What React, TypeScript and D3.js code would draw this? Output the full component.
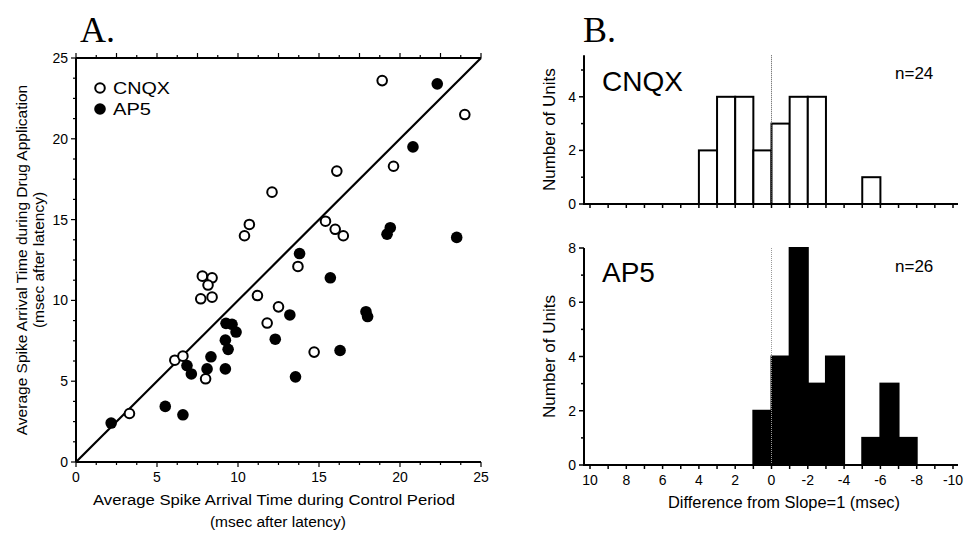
import React from "react";
import * as d3 from "d3";

// ---- Panel A data (scatter) ----
const cnqxX = [18.9, 24.0, 16.1, 19.6, 12.1, 10.7, 10.4, 15.4, 16.0, 16.5, 13.7, 11.2, 12.5, 11.8, 14.7, 7.8, 8.4, 8.15, 7.7, 8.4, 6.1, 6.6, 8.0, 3.3];
const cnqxY = [23.6, 21.5, 18.0, 18.3, 16.7, 14.7, 14.0, 14.9, 14.4, 14.0, 12.1, 10.3, 9.6, 8.6, 6.8, 11.5, 11.4, 10.95, 10.1, 10.2, 6.3, 6.55, 5.15, 3.0];
const ap5X = [22.3, 20.8, 19.4, 19.2, 23.5, 13.8, 15.7, 13.2, 17.9, 18.0, 12.3, 16.3, 13.55, 9.26, 9.63, 9.88, 9.22, 9.39, 8.33, 8.09, 9.22, 6.85, 7.12, 5.51, 6.6, 2.17];
const ap5Y = [23.4, 19.5, 14.5, 14.1, 13.9, 12.9, 11.4, 9.1, 9.3, 9.0, 7.6, 6.9, 5.27, 8.58, 8.52, 8.04, 7.54, 6.97, 6.51, 5.76, 5.76, 5.97, 5.45, 3.44, 2.92, 2.41];
const scatterTicks = [0, 5, 10, 15, 20, 25];

// ---- Panel B data (histograms); bins are [edge, edge-1] ----
const cnqxBinEdges = [4, 3, 2, 1, 0, -1, -2, -5];
const cnqxCounts = [2, 4, 4, 2, 3, 4, 4, 1];
const ap5BinEdges = [1, 0, -1, -2, -3, -5, -6, -7];
const ap5Counts = [2, 4, 8, 3, 4, 1, 3, 1];
const histXTicks = [10, 8, 6, 4, 2, 0, -2, -4, -6, -8, -10];
const cnqxYTicks = [0, 2, 4];
const ap5YTicks = [0, 2, 4, 6, 8];

const SANS = "'Liberation Sans', Arial, Helvetica, sans-serif";
const SERIF = "'Liberation Serif', 'Times New Roman', serif";

export default function App() {
  // Panel A scales
  const xA = d3.scaleLinear().domain([0, 25]).range([76, 481]);
  const yA = d3.scaleLinear().domain([0, 25]).range([462, 58]);
  const minorA = d3.range(0, 25.001, 1.25);

  // Panel B scales
  const xB = d3.scaleLinear().domain([10, -10]).range([590, 953]);
  const yB1 = d3.scaleLinear().domain([0, 4]).range([204, 96.8]);
  const yB2 = d3.scaleLinear().domain([0, 8]).range([465, 248]);
  const axisLeftB = 584;
  const axisRightB = 958;
  const intTicks = d3.range(-10, 10.001, 1);

  const line = d3.line<number>().x((d) => xA(d)).y((d) => yA(d));

  const histogram = (
    edges: number[],
    counts: number[],
    y: d3.ScaleLinear<number, number>,
    yTicks: number[],
    yMax: number,
    filled: boolean,
    label: string,
    nLabel: string,
    showXLabels: boolean,
    labelDy: number
  ) => {
    const y0 = y(0);
    const yMinorTicks = d3.range(0, Math.floor(yMax) + 1, 1);
    return (
      <g>
        {edges.map((e, i) => (
          <rect
            key={i}
            x={xB(e)}
            y={y(counts[i])}
            width={xB(e - 1) - xB(e)}
            height={y0 - y(counts[i])}
            fill={filled ? "#000" : "#fff"}
            stroke="#000"
            strokeWidth={2}
          />
        ))}
        <line
          x1={xB(0)}
          x2={xB(0)}
          y1={y(yMax)}
          y2={y0}
          stroke={filled ? "#999" : "#555"}
          strokeWidth={1}
          strokeDasharray="1,1"
        />
        <line x1={axisLeftB} x2={axisRightB} y1={y0} y2={y0} stroke="#000" strokeWidth={2} />
        {intTicks.map((t) => (
          <line key={t} x1={xB(t)} x2={xB(t)} y1={y0} y2={y0 + 4} stroke="#000" strokeWidth={1.5} />
        ))}
        {showXLabels &&
          histXTicks.map((t) => (
            <text key={t} x={xB(t)} y={y0 + 20} textAnchor="middle" fontFamily={SANS} fontSize={14}>
              {t}
            </text>
          ))}
        <line x1={axisLeftB} x2={axisLeftB} y1={y(yMax)} y2={y0 + 1} stroke="#000" strokeWidth={2} />
        {yMinorTicks.map((t) => (
          <line
            key={t}
            x1={axisLeftB}
            x2={axisLeftB - (t % 2 === 0 ? 5 : 3)}
            y1={y(t)}
            y2={y(t)}
            stroke="#000"
            strokeWidth={1.5}
          />
        ))}
        {yTicks.map((t) => (
          <text key={t} x={axisLeftB - 8} y={y(t) + 5} textAnchor="end" fontFamily={SANS} fontSize={14}>
            {t}
          </text>
        ))}
        <text
          transform={`translate(555, ${(y0 + y(yMax)) / 2}) rotate(-90)`}
          textAnchor="middle"
          fontFamily={SANS}
          fontSize={17}
        >
          Number of Units
        </text>
        <text x={602} y={y(yMax) + labelDy} fontFamily={SANS} fontSize={28}>
          {label}
        </text>
        <text x={895} y={y(yMax) + 24} fontFamily={SANS} fontSize={17}>
          {nLabel}
        </text>
      </g>
    );
  };

  return (
    <svg width={965} height={533} style={{ display: "block", position: "absolute", left: 0, top: 0 }}>
      <rect width={965} height={533} fill="#fff" />
      <text x={80} y={42} fontFamily={SERIF} fontSize={36}>
        A.
      </text>
      <text x={583} y={42} fontFamily={SERIF} fontSize={36}>
        B.
      </text>

      {/* ---- Panel A ---- */}
      <line x1={xA(0)} x2={xA(0)} y1={yA(25)} y2={yA(0)} stroke="#000" strokeWidth={2} />
      <line x1={xA(0)} x2={xA(25)} y1={yA(0)} y2={yA(0)} stroke="#000" strokeWidth={2} />
      <line x1={xA(0)} x2={xA(25)} y1={yA(25)} y2={yA(25)} stroke="#000" strokeWidth={2} />
      {minorA.map((t) => {
        const major = t % 5 === 0;
        return (
          <g key={t}>
            <line x1={xA(0)} x2={xA(0) - (major ? 5 : 3)} y1={yA(t)} y2={yA(t)} stroke="#000" strokeWidth={1.2} />
            <line x1={xA(t)} x2={xA(t)} y1={yA(0)} y2={yA(0) + (major ? 5 : 3)} stroke="#000" strokeWidth={1.2} />
            <line x1={xA(t)} x2={xA(t)} y1={yA(25)} y2={yA(25) - (t % 2.5 === 0 ? 5 : 3)} stroke="#000" strokeWidth={1.2} />
          </g>
        );
      })}
      {scatterTicks.map((t) => (
        <g key={t}>
          <text x={xA(0) - 8} y={yA(t) + 5} textAnchor="end" fontFamily={SANS} fontSize={14}>
            {t}
          </text>
          <text x={xA(t)} y={yA(0) + 20} textAnchor="middle" fontFamily={SANS} fontSize={14}>
            {t}
          </text>
        </g>
      ))}
      <text
        transform={`translate(27, ${(yA(0) + yA(25)) / 2}) rotate(-90)`}
        textAnchor="middle"
        fontFamily={SANS}
        fontSize={15.5}
      >
        Average Spike Arrival Time during Drug Application
      </text>
      <text
        transform={`translate(44, ${(yA(0) + yA(25)) / 2}) rotate(-90)`}
        textAnchor="middle"
        fontFamily={SANS}
        fontSize={15.5}
      >
        (msec after latency)
      </text>
      <text
        x={274}
        y={505}
        textAnchor="middle"
        fontFamily={SANS}
        fontSize={15.5}
        textLength={362}
        lengthAdjust="spacingAndGlyphs"
      >
        Average Spike Arrival Time during Control Period
      </text>
      <text x={278} y={527} textAnchor="middle" fontFamily={SANS} fontSize={15.5}>
        (msec after latency)
      </text>

      <path d={line([0, 25]) || ""} stroke="#000" strokeWidth={2.2} fill="none" />

      {ap5X.map((x, i) => (
        <circle key={"a" + i} cx={xA(x)} cy={yA(ap5Y[i])} r={5.8} fill="#000" />
      ))}
      {cnqxX.map((x, i) => (
        <circle key={"c" + i} cx={xA(x)} cy={yA(cnqxY[i])} r={4.8} fill="#fff" stroke="#000" strokeWidth={2} />
      ))}

      <circle cx={100} cy={88} r={4.8} fill="#fff" stroke="#000" strokeWidth={2} />
      <text x={113} y={94} fontFamily={SANS} fontSize={17} textLength={57} lengthAdjust="spacingAndGlyphs">
        CNQX
      </text>
      <circle cx={100} cy={109} r={5.8} fill="#000" />
      <text x={113} y={115} fontFamily={SANS} fontSize={17} textLength={38} lengthAdjust="spacingAndGlyphs">
        AP5
      </text>

      {/* ---- Panel B ---- */}
      {histogram(cnqxBinEdges, cnqxCounts, yB1, cnqxYTicks, 5.55, false, "CNQX", "n=24", false, 36)}
      {histogram(ap5BinEdges, ap5Counts, yB2, ap5YTicks, 8, true, "AP5", "n=26", true, 34)}
      <text
        x={784}
        y={508}
        textAnchor="middle"
        fontFamily={SANS}
        fontSize={16}
        textLength={232}
        lengthAdjust="spacingAndGlyphs"
      >
        Difference from Slope=1 (msec)
      </text>
    </svg>
  );
}
